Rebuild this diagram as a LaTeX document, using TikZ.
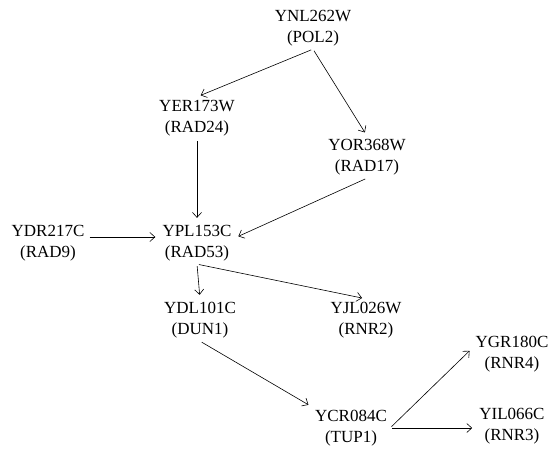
\documentclass[tikz,border=0pt]{standalone}
\usepackage{fontspec}
\setmainfont{Liberation Serif}
\usetikzlibrary{arrows.meta}

\begin{document}
\begin{tikzpicture}[x=1pt, y=-1pt,
  gene/.style={align=center, inner sep=3pt, font=\fontsize{17}{21}\selectfont},
  link/.style={-{Straight Barb[length=5pt,width=9pt]}, line width=0.6pt, shorten >=4pt, shorten <=2pt}]
\useasboundingbox (0,0) rectangle (550,455);
% genes
\node[gene] (POL2) at (313, 28) {YNL262W\\(POL2)};
\node[gene] (RAD24) at (197, 118) {YER173W\\(RAD24)};
\node[gene] (RAD17) at (367, 157) {YOR368W\\(RAD17)};
\node[gene] (RAD9) at (48, 243) {YDR217C\\(RAD9)};
\node[gene] (RAD53) at (197, 243) {YPL153C\\(RAD53)};
\node[gene] (DUN1) at (200, 320) {YDL101C\\(DUN1)};
\node[gene] (RNR2) at (366, 320) {YJL026W\\(RNR2)};
\node[gene] (RNR4) at (512, 354) {YGR180C\\(RNR4)};
\node[gene] (TUP1) at (351, 428) {YCR084C\\(TUP1)};
\node[gene] (RNR3) at (512, 426) {YIL066C\\(RNR3)};
% links
\draw[link] (POL2.south) -- (RAD24.north);
\draw[link] (POL2.south) -- (RAD17.north);
\draw[link] (RAD24.south) -- (RAD53.north);
\draw[link] (RAD17.south) -- ([yshift=5pt]RAD53.east);
\draw[link] ([yshift=6pt]RAD9.east) -- ([yshift=6pt]RAD53.west);
\draw[link] (RAD53.south) -- (DUN1.north);
\draw[link] (RAD53.south) -- (RNR2.north);
\draw[link] (DUN1.south) -- (TUP1.north west);
\draw[link] (TUP1.east) -- ([yshift=6pt]RNR4.west);
\draw[link] (TUP1.east) -- (TUP1.east -| RNR3.west);
\end{tikzpicture}
\end{document}
